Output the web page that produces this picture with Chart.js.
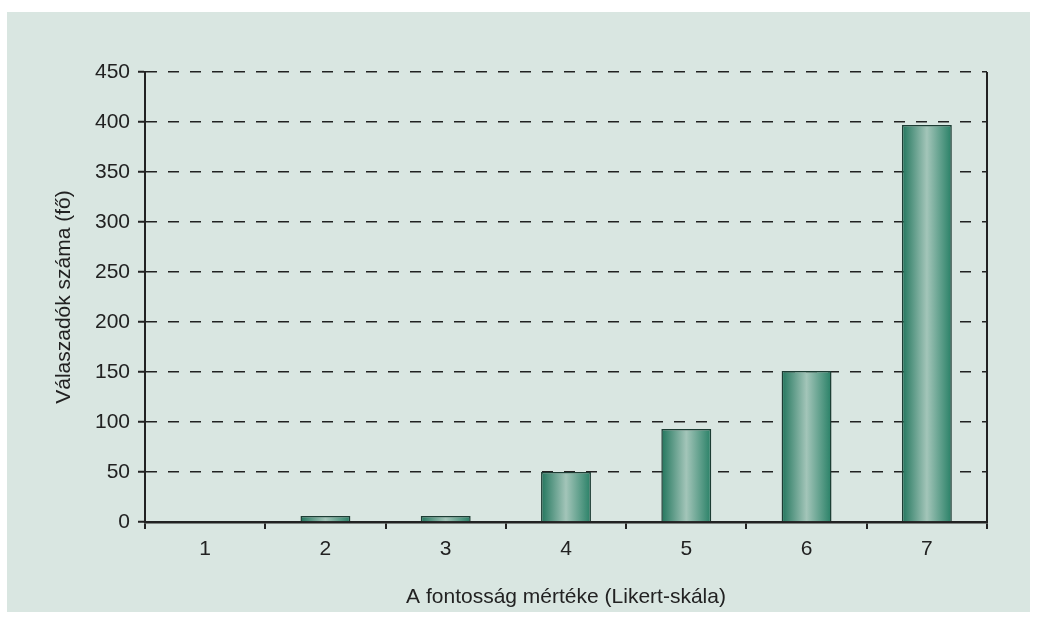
<!DOCTYPE html>
<html>
<head>
<meta charset="utf-8">
<script src="https://cdn.jsdelivr.net/npm/chart.js@4"></script>
<style>
  body { margin: 0; background: #fff; }
  canvas { display: block; }
</style>
</head>
<body>
<canvas id="likert-chart" width="1038" height="624"></canvas>
<script>
const categories = ["1", "2", "3", "4", "5", "6", "7"];
const responses = [0, 6, 6, 50, 93, 151, 397];
const yMin = 0;
const yMax = 450;
const yStep = 50;
const xTitle = "A fontosság mértéke (Likert-skála)";
const yTitle = "Válaszadók száma (fő)";

const barPct = 0.415;
const ink = "#222222";
const fontFamily = "'Liberation Sans', Arial, sans-serif";
const fontSize = 21;

// panel háttér
const panelBackground = {
    id: "panelBackground",
    beforeDraw(chart) {
        const c = chart.ctx;
        c.save();
        c.fillStyle = "#ffffff";
        c.fillRect(0, 0, chart.width, chart.height);
        c.fillStyle = "#d9e6e1";
        c.fillRect(7, 12, 1023, 600);
        c.restore();
    }
};

// oszlopok vízszintes színátmenete
const barGradient = (c) => {
    const xs = c.chart.scales.x;
    if (!xs || c.type !== "data") return "#4f9a83";
    const cx = xs.getPixelForValue(c.dataIndex);
    const w = (xs.width / categories.length) * barPct;
    if (!isFinite(cx) || !isFinite(w) || w <= 0) return "#4f9a83";
    const g = c.chart.ctx.createLinearGradient(cx - w / 2, 0, cx + w / 2, 0);
    g.addColorStop(0, "#22765d");
    g.addColorStop(0.5, "#a3c5b9");
    g.addColorStop(1, "#288066");
    return g;
};

new Chart(document.getElementById("likert-chart"), {
    type: "bar",
    data: {
        labels: categories,
        datasets: [{
            data: responses,
            backgroundColor: barGradient,
            borderColor: "#1d3d34",
            borderWidth: 1.5,
            barPercentage: barPct,
            categoryPercentage: 1
        }]
    },
    options: {
        responsive: false,
        animation: false,
        layout: { padding: { top: 72, right: 51, left: 0, bottom: 0 } },
        plugins: {
            legend: { display: false },
            tooltip: { enabled: false }
        },
        scales: {
            x: {
                offset: true,
                afterFit: (s) => { s.height = 102; },
                grid: {
                    offset: true,
                    drawOnChartArea: true,
                    // csak a jobb szélső (utolsó) vonal látszik
                    color: (c) => c.index === undefined ? ink : "transparent",
                    lineWidth: 2,
                    tickColor: ink,
                    tickWidth: 2,
                    tickLength: 7
                },
                border: { display: true, color: ink, width: 2.5 },
                ticks: {
                    color: ink,
                    padding: 8,
                    font: { family: fontFamily, size: fontSize }
                },
                title: {
                    display: true,
                    text: xTitle,
                    color: ink,
                    font: { family: fontFamily, size: fontSize },
                    padding: { top: 0, bottom: 14 }
                }
            },
            y: {
                min: yMin,
                max: yMax,
                afterFit: (s) => { s.width = 145; },
                grid: {
                    color: ink,
                    lineWidth: 1.5,
                    tickColor: ink,
                    tickWidth: 2,
                    tickLength: 7,
                    tickBorderDash: []
                },
                border: { display: true, color: ink, width: 2, dash: [11, 11] },
                ticks: {
                    stepSize: yStep,
                    color: ink,
                    padding: 8,
                    font: { family: fontFamily, size: fontSize }
                },
                title: {
                    display: true,
                    text: yTitle,
                    color: ink,
                    font: { family: fontFamily, size: fontSize },
                    padding: { top: 52, bottom: 0 }
                }
            }
        }
    },
    plugins: [panelBackground]
});
</script>
</body>
</html>
